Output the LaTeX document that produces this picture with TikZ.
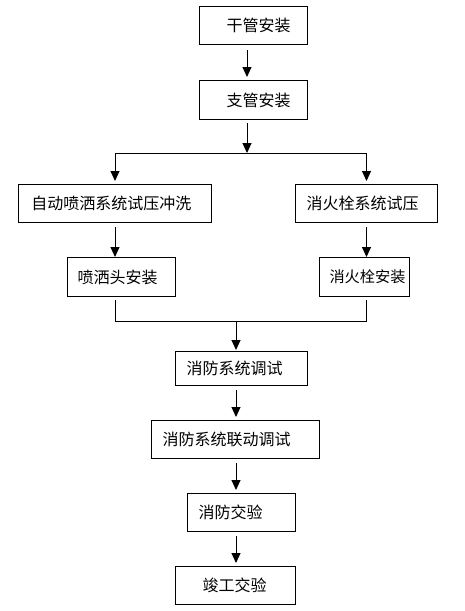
\documentclass[tikz,border=0pt]{standalone}
\usepackage{fontspec}
\newfontfamily\cjk{Noto Sans CJK SC}
\usetikzlibrary{arrows.meta}
\begin{document}
\begin{tikzpicture}[x=1pt,y=-1pt,
  box/.style={draw, line width=1pt, inner sep=0pt, align=left, anchor=north west,
    font=\cjk\fontsize{16}{18}\selectfont},
  arr/.style={line width=1pt, -{Triangle[width=9pt,length=10pt]}},
  ln/.style={line width=1pt}]
\useasboundingbox (0,0) rectangle (465,611);
\node[box, text width=108pt, minimum height=38pt] (A) at (199,6) {\hspace*{27pt}干管安装};
\node[box, text width=108pt, minimum height=39pt] (B) at (199,80) {\hspace*{27pt}支管安装};
\node[box, text width=193pt, minimum height=38pt] (C) at (18,184) {\hspace*{13pt}自动喷洒系统试压冲洗};
\node[box, text width=142pt, minimum height=38pt] (D) at (295,184) {\hspace*{11pt}消火栓系统试压};
\node[box, text width=108pt, minimum height=39pt] (E) at (67,257) {\hspace*{10pt}喷洒头安装};
\node[box, text width=90pt, minimum height=39pt, font=\cjk\fontsize{15.2}{18}\selectfont] (F) at (319,257) {\hspace*{10pt}消火栓安装};
\node[box, text width=132pt, minimum height=34pt] (G) at (175,351) {\hspace*{11pt}消防系统调试};
\node[box, text width=168pt, minimum height=38pt] (H) at (151,420) {\hspace*{11pt}消防系统联动调试};
\node[box, text width=108pt, minimum height=38pt] (I) at (187,493) {\hspace*{11pt}消防交验};
\node[box, text width=120pt, minimum height=38pt] (J) at (175,566) {\hspace*{27pt}竣工交验};
\coordinate (j1) at (247,153);
\coordinate (j2) at (236,321);
\draw[arr] ([yshift=-5pt]A.south -| j1) -- ([yshift=3pt]B.north -| j1);
\draw[arr] ([yshift=-3pt]B.south -| j1) -- (j1);
\draw[ln] (C.north |- j1) -- (D.north |- j1);
\draw[arr] (C.north |- j1) -- ([yshift=3pt]C.north);
\draw[arr] (D.north |- j1) -- ([yshift=3pt]D.north);
\draw[arr] ([yshift=-4pt]C.south) -- (C.south |- E.north);
\draw[arr] ([yshift=-4pt]D.south) -- (D.south |- F.north);
\draw[ln] ([yshift=-3pt]C.south |- E.south) -- (C.south |- j2) -- (D.south |- j2) -- ([yshift=-3pt]D.south |- F.south);
\draw[arr] (j2) -- ([yshift=1pt]G.north -| j2);
\draw[arr] ([yshift=-4pt]G.south -| j2) -- ([yshift=3pt]H.north -| j2);
\draw[arr] ([yshift=-4pt]H.south -| j2) -- ([yshift=3pt]I.north -| j2);
\draw[arr] ([yshift=-4pt]I.south -| j2) -- ([yshift=3pt]J.north -| j2);
\end{tikzpicture}
\end{document}
